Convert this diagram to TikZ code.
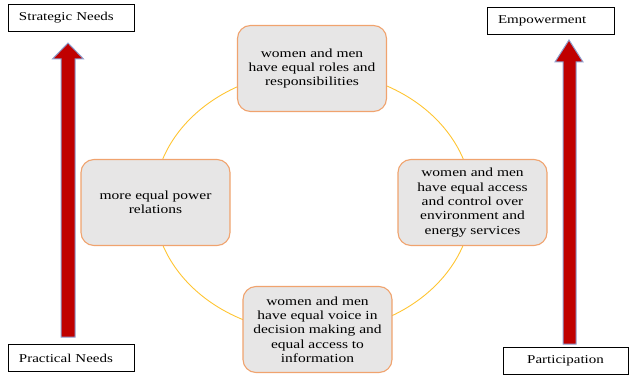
\documentclass[tikz,border=0pt]{standalone}
\usepackage{fontspec}
\setmainfont[FakeStretch=1.25]{Liberation Serif}
\begin{document}
\begin{tikzpicture}[x=1pt,y=-1pt,
  goal/.style={draw=boxedge, line width=1.1pt, fill=boxfill, rounded corners=13pt,
    minimum width=149pt, minimum height=86pt, align=center, inner sep=2pt,
    font=\fontsize{12.4}{14.3}\selectfont},
  tag/.style={draw=black, line width=0.8pt, fill=white, minimum height=27pt,
    inner xsep=11pt, font=\fontsize{12}{14}\selectfont},
  ring/.style={draw=ringcol, line width=0.9pt},
  blockarrow/.style={fill=arrowred, draw=arrowedge, line width=1pt, line join=miter}
]
\definecolor{boxedge}{HTML}{F0A36E}
\definecolor{boxfill}{HTML}{E7E6E6}
\definecolor{ringcol}{HTML}{FFC532}
\definecolor{arrowred}{HTML}{C00000}
\definecolor{arrowedge}{HTML}{8E9FCF}

\useasboundingbox (0,0) rectangle (629,377);

% cycle of outcomes
\draw[ring] (313,202) ellipse [x radius=159, y radius=131];

\node[goal] (roles) at (312,68.5)
  {women and men\\have equal roles and\\responsibilities};
\node[goal] (access) at (472.5,202.5)
  {women and men\\have equal access\\and control over\\environment and\\energy services};
\node[goal] (voice) at (317.5,329.5)
  {women and men\\have equal voice in\\decision making and\\equal access to\\information};
\node[goal] (power) at (155.5,202.5)
  {more equal power\\relations};

% rising block arrows
\draw[blockarrow] (61,337) -- (61,59) -- (52.5,59) -- (68,43) -- (83.5,59)
  -- (75,59) -- (75,337) -- cycle;
\draw[blockarrow] (563,344) -- (563,62) -- (555,62) -- (569,40) -- (583,62)
  -- (576,62) -- (576,344) -- cycle;

% scale labels
\node[tag, minimum width=126pt, text width=104pt, align=left] (strategic) at (71,17.5) {Strategic Needs};
\node[tag, minimum width=127pt, text width=105pt, align=left] (empower) at (550.5,20.5) {Empowerment};
\node[tag, minimum width=126pt, text width=104pt, align=left] (practical) at (71,358) {Practical Needs};
\node[tag, minimum width=125pt, text width=103pt, align=center] (particip) at (565.5,361) {Participation};
\end{tikzpicture}
\end{document}
